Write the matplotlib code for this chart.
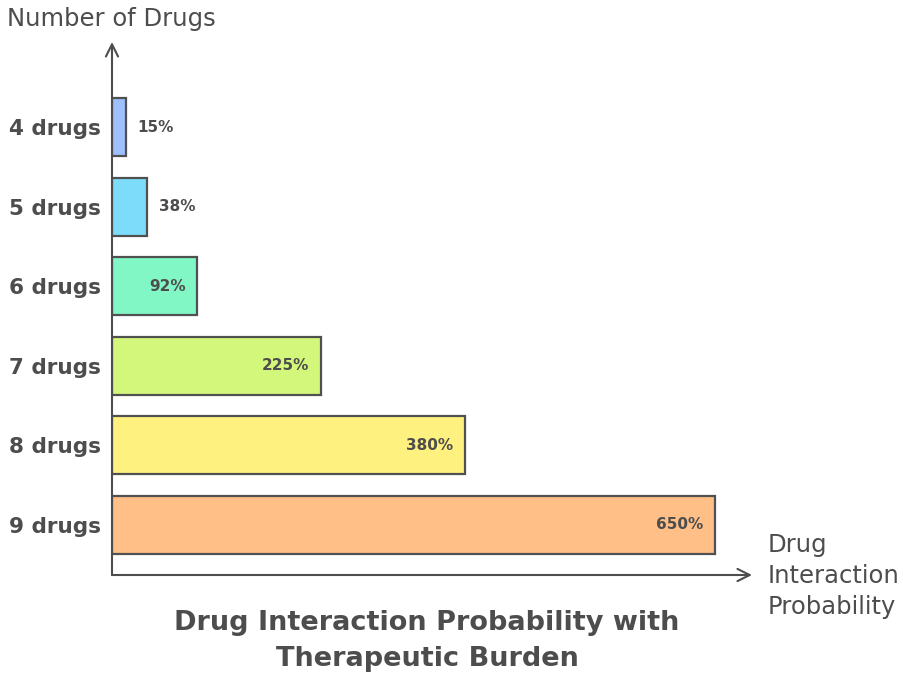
import matplotlib.pyplot as plt

plt.rcParams['font.family'] = ['DejaVu Sans']

# data
categories = ["4 drugs", "5 drugs", "6 drugs", "7 drugs", "8 drugs", "9 drugs"]
values = [15, 38, 92, 225, 380, 650]
colors = ["#9ec0fd", "#7ddcfa", "#80f7c4", "#d3f77a", "#fff180", "#ffbf86"]

TEXT = "#4d4d4d"
EDGE = "#505050"

fig = plt.figure(figsize=(9.04, 6.78), dpi=100)
# axes box = area between the two arrow lines
ax = fig.add_axes([112 / 904, 1 - 575 / 678, (752 - 112) / 904, (575 - 42) / 678])

ypos = list(range(len(categories)))[::-1]  # 4 drugs on top
ax.barh(ypos, values, height=0.73, color=colors, edgecolor=EDGE, linewidth=1.6, zorder=3)

ax.set_xlim(0, 689.7)
ax.set_ylim(-0.635, 6.07)

for y, v in zip(ypos, values):
    if v > 60:
        ax.annotate(f"{v}%", (v, y), xytext=(-8.5, 0), textcoords="offset points",
                    ha="right", va="center", fontsize=11, fontweight="bold", color=TEXT)
    else:
        ax.annotate(f"{v}%", (v, y), xytext=(8.5, 0), textcoords="offset points",
                    ha="left", va="center", fontsize=11, fontweight="bold", color=TEXT)

ax.set_yticks(ypos)
ax.set_yticklabels(categories, fontsize=15.5, fontweight="bold", color=TEXT)
ax.tick_params(axis="y", length=0, pad=8)
ax.set_xticks([])
for s in ax.spines.values():
    s.set_visible(False)

# axis arrows
arrow = dict(arrowstyle="->", color=TEXT, lw=1.5, mutation_scale=22, shrinkA=0, shrinkB=0)
ax.annotate("", xy=(0, 1), xytext=(0, 0), xycoords="axes fraction", arrowprops=arrow)
ax.annotate("", xy=(1, 0), xytext=(0, 0), xycoords="axes fraction", arrowprops=arrow)

fig.text(7 / 904, 1 - 19 / 678, "Number of Drugs", fontsize=17.5, color=TEXT,
         ha="left", va="center")
fig.text(768 / 904, 1 - 576 / 678, "Drug\nInteraction\nProbability", fontsize=17.5,
         color=TEXT, ha="left", va="center", linespacing=1.35)

fig.text(427 / 904, 1 - 641 / 678, "Drug Interaction Probability with\nTherapeutic Burden",
         fontsize=19.5, fontweight="bold", color=TEXT, ha="center", va="center",
         linespacing=1.45)

fig.savefig("out.png", dpi=100)
